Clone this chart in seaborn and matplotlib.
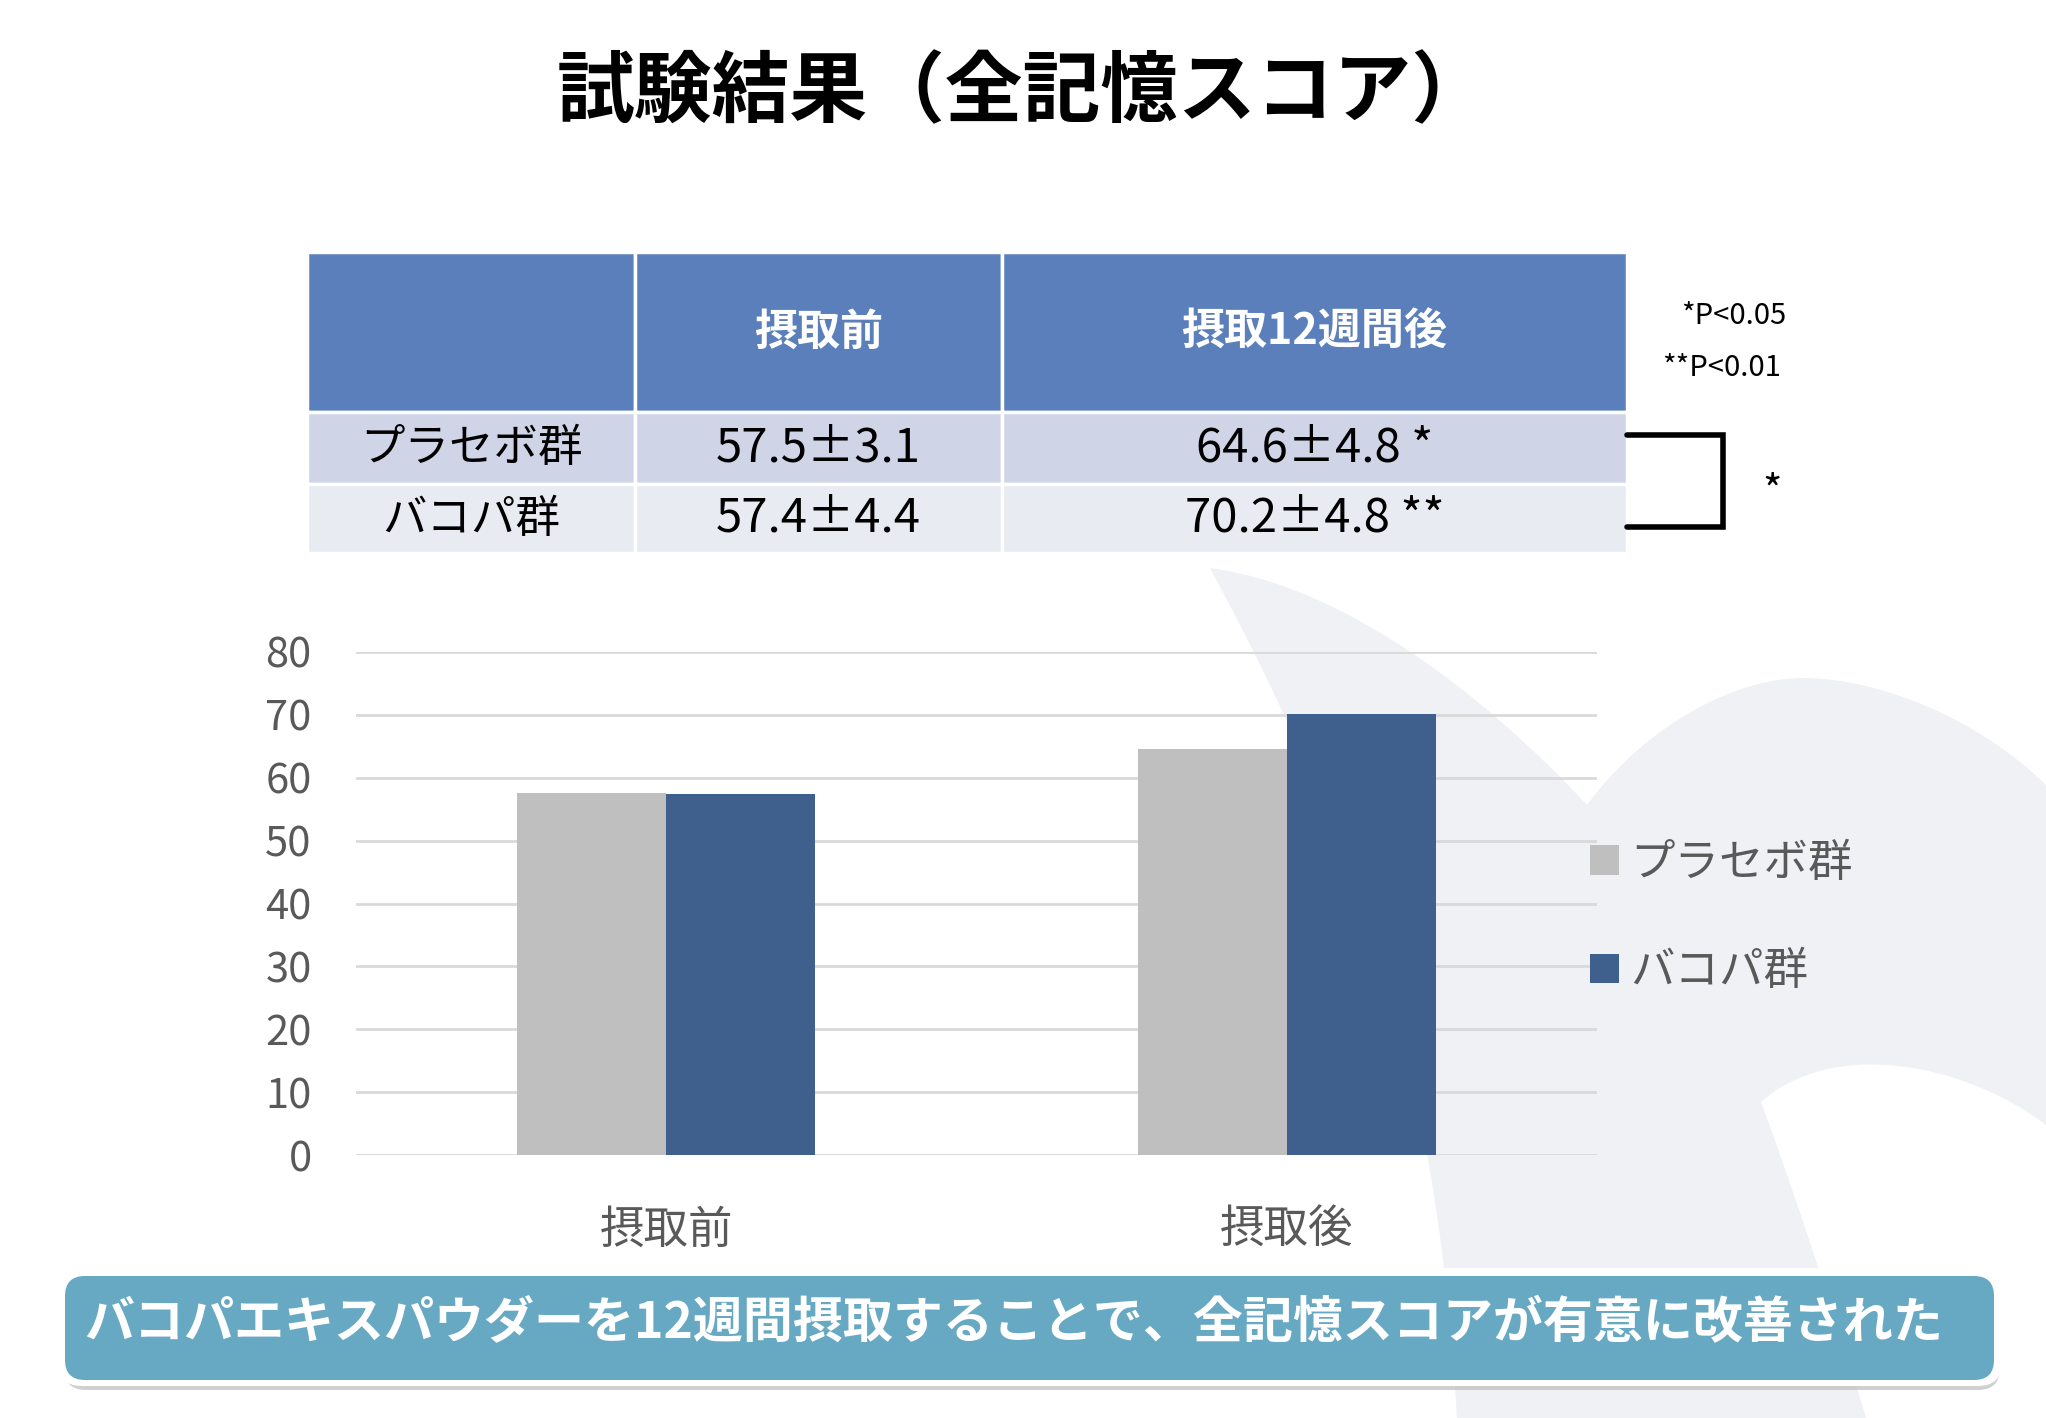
import matplotlib
matplotlib.use("Agg")
import matplotlib.pyplot as plt
import seaborn as sns
import pandas as pd
from matplotlib.patches import Rectangle, FancyBboxPatch, PathPatch
from matplotlib.path import Path

# ---------------------------------------------------------------- data
timepoints = ["摂取前", "摂取後"]
groups = ["プラセボ群", "バコパ群"]
placebo_mean = [57.5, 64.6]
placebo_sd = [3.1, 4.8]
bacopa_mean = [57.4, 70.2]
bacopa_sd = [4.4, 4.8]
placebo_sig = ["", "*"]
bacopa_sig = ["", "**"]
table_cols = ["摂取前", "摂取12週間後"]
y_ticks = [0, 10, 20, 30, 40, 50, 60, 70, 80]
p_notes = ["*P<0.05", "**P<0.01"]
group_sig = "*"
title = "試験結果（全記憶スコア）"
conclusion = "バコパエキスパウダーを12週間摂取することで、全記憶スコアが有意に改善された"

palette = {"プラセボ群": "#BFBFBF", "バコパ群": "#3F5F8C"}

df = pd.DataFrame({
    "timepoint": timepoints * 2,
    "group": [groups[0]] * 2 + [groups[1]] * 2,
    "score": placebo_mean + bacopa_mean,
})

sns.set_theme(style="white")
plt.rcParams["font.family"] = ["Noto Sans CJK JP", "DejaVu Sans"]

W, H = 2046, 1418
fig = plt.figure(figsize=(W / 100, H / 100), dpi=100)
fig.patch.set_facecolor("white")

# background layer in pixel coords
bg = fig.add_axes([0, 0, 1, 1], zorder=0)
bg.set_xlim(0, W)
bg.set_ylim(H, 0)
bg.axis("off")

# decorative light shape behind the chart
verts = [
    (1210, 568),
    (1340, 585), (1480, 690), (1587, 805),
    (1650, 720), (1740, 678), (1803, 678),
    (1880, 678), (1980, 720), (2046, 785),
    (2046, 1125),
    (1960, 1060), (1830, 1040), (1761, 1102),
    (1790, 1180), (1840, 1330), (1866, 1418),
    (1457, 1418),
    (1440, 1150), (1400, 920), (1210, 568),
    (1210, 568),
]
codes = ([Path.MOVETO] + [Path.CURVE4] * 9 + [Path.LINETO] + [Path.CURVE4] * 6
         + [Path.LINETO] + [Path.CURVE4] * 3 + [Path.CLOSEPOLY])
bg.add_patch(PathPatch(Path(verts, codes), facecolor="#F0F1F5", edgecolor="none"))

# title
bg.text(1023, 93, title, ha="center", va="center", fontsize=56, fontweight="bold", color="black")

# table
x_edges = [307, 635, 1002, 1627]
y_edges = [252, 412, 484, 553]
row_colors = ["#5B7FBA", "#CFD5E7", "#E9EBF3"]
for r in range(3):
    for c in range(3):
        bg.add_patch(Rectangle((x_edges[c], y_edges[r]), x_edges[c + 1] - x_edges[c],
                               y_edges[r + 1] - y_edges[r], facecolor=row_colors[r],
                               edgecolor="white", linewidth=2.5))
col_cx = [(x_edges[i] + x_edges[i + 1]) / 2 for i in range(3)]
row_cy = [(y_edges[i] + y_edges[i + 1]) / 2 for i in range(3)]
for i, name in enumerate(table_cols):
    bg.text(col_cx[i + 1], row_cy[0], name, ha="center", va="center", fontsize=31,
            fontweight="bold", color="white")
rows = [(groups[0], placebo_mean, placebo_sd, placebo_sig),
        (groups[1], bacopa_mean, bacopa_sd, bacopa_sig)]
for r, (name, m, s, sig) in enumerate(rows):
    bg.text(col_cx[0], row_cy[r + 1], name, ha="center", va="center", fontsize=32, color="black")
    for c in range(2):
        txt = f"{m[c]:.1f}±{s[c]:.1f}" + (f" {sig[c]}" if sig[c] else "")
        bg.text(col_cx[c + 1], row_cy[r + 1], txt, ha="center", va="center", fontsize=34, color="black")

# bracket between groups
bg.plot([1627, 1723, 1723, 1627], [435, 435, 527, 527], color="black", lw=4,
        solid_joinstyle="miter")
bg.text(1772, 492, group_sig, ha="center", va="center", fontsize=30, color="black")
bg.text(1786, 316, p_notes[0], ha="right", va="center", fontsize=21, color="black")
bg.text(1781, 368, p_notes[1], ha="right", va="center", fontsize=21, color="black")

# conclusion banner
bg.add_patch(FancyBboxPatch((64, 1278), 1936, 112, boxstyle="round,pad=0,rounding_size=22",
                            facecolor="#BDBDBD", edgecolor="none", alpha=0.7))
bg.add_patch(FancyBboxPatch((58, 1268), 1944, 118, boxstyle="round,pad=0,rounding_size=24",
                            facecolor="white", edgecolor="none"))
bg.add_patch(FancyBboxPatch((65, 1276), 1929, 104, boxstyle="round,pad=0,rounding_size=20",
                            facecolor="#67A9C3", edgecolor="none"))
bg.text(1014, 1324, conclusion, ha="center", va="center", fontsize=36, fontweight="bold",
        color="white")

# chart
ax = fig.add_axes([356 / W, 1 - 1155 / H, 1241 / W, 503 / H], zorder=1)
ax.patch.set_alpha(0)
sns.barplot(data=df, x="timepoint", y="score", hue="group", order=timepoints,
            hue_order=groups, palette=palette, width=0.48, saturation=1,
            edgecolor="none", ax=ax)
ax.set_xlim(-0.5, 1.5)
ax.set_ylim(0, 80)
ax.set_yticks(y_ticks)
ax.set_xlabel("")
ax.set_ylabel("")
for sp in ax.spines.values():
    sp.set_visible(False)
ax.yaxis.grid(True, color="#D9D9D9", linewidth=2)
ax.set_axisbelow(True)
ax.tick_params(axis="y", length=0, pad=32, labelsize=30, labelcolor="#595959")
ax.tick_params(axis="x", length=0, pad=37, labelsize=32, labelcolor="#595959")

handles, labels = ax.get_legend_handles_labels()
ax.legend(handles, labels, loc="center left", bbox_to_anchor=(1590 / W, 1 - 917 / H),
          bbox_transform=fig.transFigure, frameon=False, fontsize=32,
          labelcolor="#595959", handlelength=0.66, handleheight=0.66,
          handletextpad=0.25, labelspacing=1.4, borderpad=0, borderaxespad=0)

fig.savefig("out.png", dpi=100, facecolor="white")
